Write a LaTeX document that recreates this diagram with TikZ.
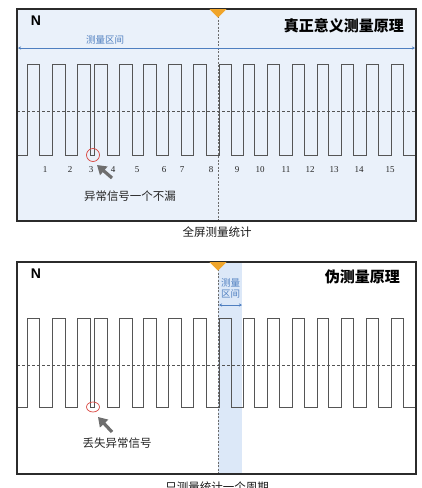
\documentclass[tikz,border=0pt]{standalone}
\usepackage{fontspec}
\setmainfont{Liberation Sans}
\newfontfamily\cjk{Noto Sans CJK SC}
\newfontfamily\numf{Liberation Serif}
\usetikzlibrary{arrows.meta}
\definecolor{framec}{HTML}{2B2B2B}
\definecolor{panelbg}{HTML}{EAF1FA}
\definecolor{bandbg}{HTML}{DCE8F8}
\definecolor{wavec}{HTML}{555555}
\definecolor{measc}{HTML}{4F7FC0}
\definecolor{markc}{HTML}{F0A52A}
\definecolor{redc}{HTML}{D9453F}
\definecolor{arrc}{HTML}{6E6E6E}
\tikzset{
  framebox/.style={draw=framec, line width=1.3pt},
  wave/.style={draw=wavec, line width=0.8pt, line join=miter},
  midline/.style={draw=wavec, line width=0.6pt, dash pattern=on 3pt off 2pt},
  vline/.style={draw=gray!85!black, line width=0.7pt, dash pattern=on 2pt off 1.5pt},
  marker/.style={fill=markc, draw=none},
  measline/.style={draw=measc, line width=0.7pt, {Stealth[length=3pt,width=3pt]}-{Stealth[length=3pt,width=3pt]}},
  meastxt/.style={text=measc, font=\cjk\fontsize{9.5}{11}\selectfont, inner sep=0pt},
  num/.style={font=\numf\fontsize{9}{9}\selectfont, text=black!85, inner sep=0pt},
  ntxt/.style={font=\bfseries\fontsize{14}{14}\selectfont, inner sep=0pt},
  titletxt/.style={font=\cjk\bfseries\fontsize{15}{15}\selectfont, inner sep=0pt, anchor=east},
  notetxt/.style={font=\cjk\fontsize{11.5}{12}\selectfont, text=black!85, inner sep=0pt},
  captxt/.style={font=\cjk\fontsize{11.5}{12}\selectfont, text=black!90, inner sep=0pt},
  redring/.style={draw=redc, line width=0.7pt},
  bigarrow/.style={draw=arrc, line width=3.2pt, -{Triangle[length=9pt,width=11pt]}}
}
\def\pulses{27/39,52/65,77/90,94/107,119/132,143/156,168/181,193/206,219/231,243/254,267/279,292/304,317/328,341/353,366/378,391/403}
\begin{document}
\begin{tikzpicture}[x=1pt,y=-1pt]
\useasboundingbox (0,0) rectangle (422,488);
% ---------- top panel ----------
\fill[panelbg] (17,9) rectangle (416,221);
\draw[vline] (218,9) -- (218,221);
\draw[midline] (17,111) -- (416,111);
\draw[wave] (17,155) \foreach \a/\b in \pulses { -- (\a,155) -- (\a,64) -- (\b,64) -- (\b,155) } -- (416,155);
\draw[framebox] (17,9) rectangle (416,221);
\fill[marker] (209.5,9) -- (226.5,9) -- (218,17.5) -- cycle;
\node[ntxt] (n1) at (36,21) {N};
\node[titletxt] (t1) at (404,26) {真正意义测量原理};
\coordinate (ml) at (18,48);
\coordinate (mr) at (415,48);
\draw[measline] (ml) -- (mr);
\node[meastxt] (mt1) at (105,40) {测量区间};
\foreach \n/\x in {1/45,2/70,3/91,4/113,5/137,6/164,7/182,8/211,9/237,10/260,11/286,12/310,13/334,14/359,15/390}
  \node[num] (k\n) at (\x,170) {\n};
\draw[redring] (93,155) ellipse [x radius=6.5, y radius=6.5];
\coordinate (a1t) at (112,178);
\coordinate (a1h) at (97,165);
\draw[bigarrow] (a1t) -- (a1h);
\node[notetxt] (note1) at (130,196) {异常信号一个不漏};
\node[captxt] (cap1) at (217,232) {全屏测量统计};
% ---------- bottom panel ----------
\fill[white] (17,262) rectangle (416,474);
\fill[bandbg] (218,262) rectangle (242,474);
\draw[vline] (218,262) -- (218,474);
\draw[midline] (17,365) -- (416,365);
\draw[wave] (17,407) \foreach \a/\b in \pulses { -- (\a,407) -- (\a,318) -- (\b,318) -- (\b,407) } -- (416,407);
\draw[framebox] (17,262) rectangle (416,474);
\fill[marker] (209.5,262) -- (226.5,262) -- (218,270.5) -- cycle;
\node[ntxt] (n2) at (36,274) {N};
\node[titletxt] (t2) at (400,277) {伪测量原理};
\node[meastxt] (mt2a) at (230.5,283) {测量};
\node[meastxt] (mt2b) at (230.5,294) {区间};
\coordinate (bl) at (219,305);
\coordinate (br) at (242,305);
\draw[measline] (bl) -- (br);
\draw[redring] (93,407) ellipse [x radius=6.5, y radius=5];
\coordinate (a2t) at (112,432);
\coordinate (a2h) at (98,417);
\draw[bigarrow] (a2t) -- (a2h);
\node[notetxt] (note2) at (117,443) {丢失异常信号};
\node[captxt] (cap2) at (217,487) {只测量统计一个周期};
\end{tikzpicture}
\end{document}
